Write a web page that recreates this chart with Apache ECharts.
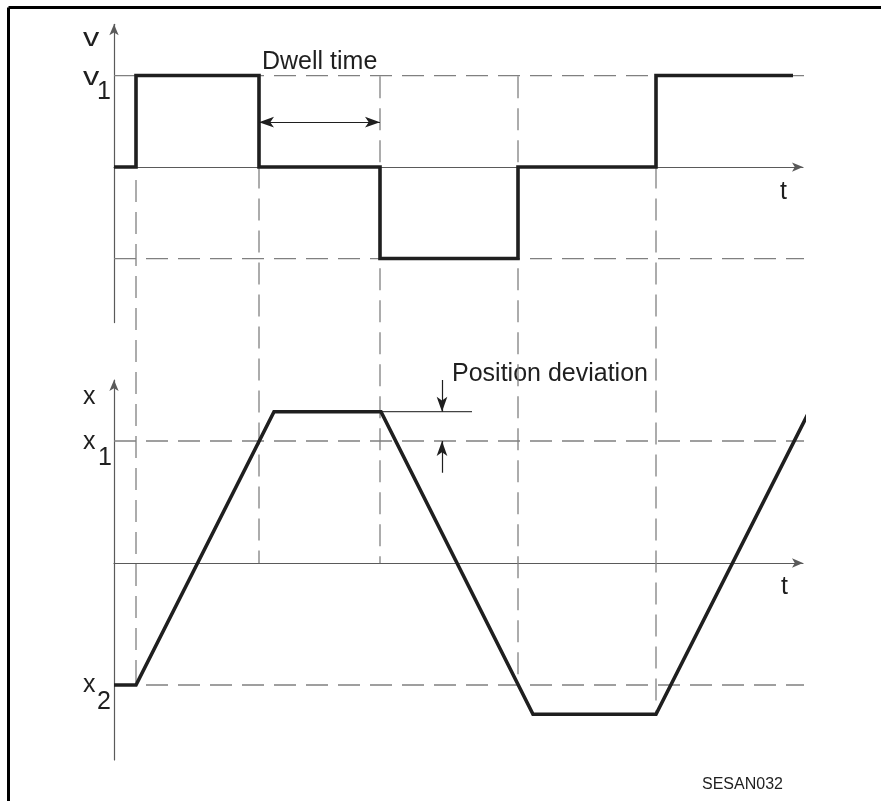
<!DOCTYPE html>
<html>
<head>
<meta charset="utf-8">
<script src="https://cdn.jsdelivr.net/npm/echarts@6/dist/echarts.min.js"></script>
<style>
  html, body { margin: 0; padding: 0; background: #fff; }
  #chart { width: 881px; height: 801px; }
</style>
</head>
<body>
<div id="chart"></div>
<script>
// velocity profile (top panel), step changes at these times
const velT = [0, 22, 145, 266, 404, 542, 679];
const velV = [0, 1, 0, -1, 0, 1, 1];
// position profile (bottom panel)
const posT = [0, 22, 160, 267, 419, 542, 695];
const posX = [-1, -1, 1.24, 1.24, -1.24, -1.24, 1.24];
// dashed reference levels
const vLevels = [1, -1];
const xLevels = [1, -1];
const levelEnd = 690;
// dashed vertical guides, in position-panel units
const guideT = [22, 145, 266, 404, 542];
const guideTop = [3.14, 3.25, 3.99, 3.99, 3.25];
const guideBottom = [-1, 0, 0, -1, -1.24];
// dwell time arrow
const dwellT = [145, 266];
const dwellV = 0.49;
// position deviation marker
const devT = 328;
const devLineEnd = 358;
const devPeak = 1.24;

const chart = echarts.init(document.getElementById('chart'), null, { renderer: 'canvas' });

const FONT = '"Liberation Sans", Arial, sans-serif';
const DASH = { color: '#808080', width: 1.3, type: [22, 10] };
const AXIS = { color: '#5a5a5a', width: 1.2 };
const INK = '#1f1f1f';
const HEAD = [8, 15];

function axisX(gridIndex) {
  return {
    type: 'value', gridIndex, min: 0, max: 689,
    axisLine: { show: true, onZero: true, symbol: ['none', 'arrow'], symbolSize: [7, 11], lineStyle: AXIS },
    axisTick: { show: false }, axisLabel: { show: false }, splitLine: { show: false }
  };
}
function axisY(gridIndex, min, max) {
  return {
    type: 'value', gridIndex, min, max,
    axisLine: { show: true, onZero: false, symbol: ['none', 'arrow'], symbolSize: [7, 11], lineStyle: AXIS },
    axisTick: { show: false }, axisLabel: { show: false }, splitLine: { show: false }
  };
}
function plain(data, xi, lineStyle, extra) {
  return Object.assign({
    type: 'line', xAxisIndex: xi, yAxisIndex: xi, data,
    showSymbol: false, symbol: 'none', clip: false, silent: true,
    lineStyle, z: 2
  }, extra || {});
}
function label(text, x, baseline, size, opts) {
  return Object.assign({
    type: 'text', x, y: baseline - 0.19 * size, silent: true,
    style: { text, font: size + 'px ' + FONT, fill: INK, textAlign: 'left', textVerticalAlign: 'middle' }
  }, opts || {});
}

const series = [];
vLevels.forEach(v => series.push(plain([[0, v], [levelEnd, v]], 0, DASH)));
xLevels.forEach(v => series.push(plain([[0, v], [levelEnd, v]], 1, DASH)));
guideT.forEach((t, i) => series.push(plain([[t, guideTop[i]], [t, guideBottom[i]]], 1, DASH)));

series.push(plain(velT.map((t, i) => [t, velV[i]]), 0,
  { color: INK, width: 3.6, join: 'miter', cap: 'butt' }, { step: 'end', z: 5 }));
series.push(plain(posT.map((t, i) => [t, posX[i]]), 1,
  { color: INK, width: 3.6, join: 'miter', cap: 'butt' }, { z: 5 }));

// deviation reference line at the peak
series.push(plain([[posT[3], devPeak], [devLineEnd, devPeak]], 1, { color: '#444', width: 1.2 }));

series.push({
  type: 'lines', coordinateSystem: 'cartesian2d', xAxisIndex: 0, yAxisIndex: 0, silent: true,
  symbol: ['arrow', 'arrow'], symbolSize: [HEAD, HEAD],
  lineStyle: { color: INK, width: 1.2, opacity: 1 },
  data: [{ coords: [[dwellT[0], dwellV], [dwellT[1], dwellV]] }], z: 6
});
series.push({
  type: 'lines', coordinateSystem: 'cartesian2d', xAxisIndex: 1, yAxisIndex: 1, silent: true,
  symbol: ['none', 'arrow'], symbolSize: [HEAD, HEAD],
  lineStyle: { color: INK, width: 1.2, opacity: 1 },
  data: [
    { coords: [[devT, 1.5], [devT, devPeak]] },
    { coords: [[devT, 0.74], [devT, 1]] }
  ], z: 6
});

chart.setOption({
  animation: false,
  backgroundColor: '#fff',
  grid: [
    { left: 114, top: 24.3, width: 689, height: 298.3 },
    { left: 114, top: 380, width: 689, height: 380 }
  ],
  xAxis: [axisX(0), axisX(1)],
  yAxis: [axisY(0, -1.7, 1.56), axisY(1, -1.615, 1.5)],
  series,
  graphic: [
    { type: 'line', shape: { x1: 8.5, y1: 7.5, x2: 881, y2: 7.5 }, style: { stroke: '#000', lineWidth: 3 } },
    { type: 'line', shape: { x1: 8.5, y1: 7.5, x2: 8.5, y2: 801 }, style: { stroke: '#000', lineWidth: 3 } },
    label('v', 83, 44, 25, { scaleX: 1.3 }),
    label('v', 83, 83, 25, { scaleX: 1.3 }),
    label('1', 97, 97, 25),
    label('t', 780, 197, 25),
    label('Dwell time', 262, 67, 25),
    label('x', 83, 402, 25),
    label('x', 83, 447, 25),
    label('1', 98, 463, 25),
    label('x', 83, 690, 25),
    label('2', 97, 707, 25),
    label('t', 781, 592, 25),
    label('Position deviation', 452, 379, 25),
    label('SESAN032', 702, 788, 16)
  ]
});
</script>
</body>
</html>
